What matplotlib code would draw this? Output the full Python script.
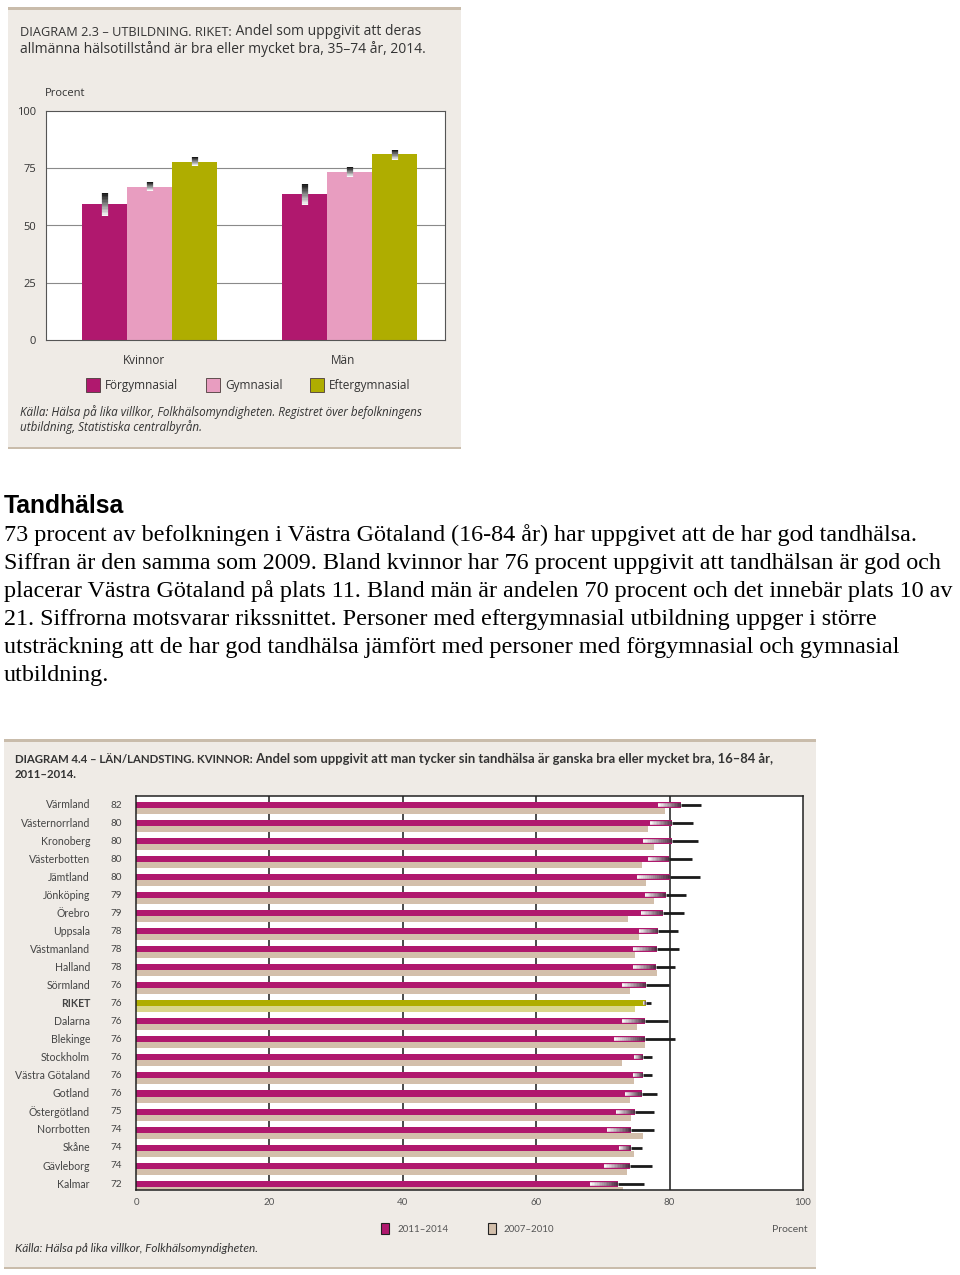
import numpy as np
from matplotlib import pyplot as plt
from matplotlib.patches import Rectangle
from matplotlib.collections import LineCollection
from matplotlib.colors import to_rgb

W, H = 960, 1275

# ---------------- data: diagram 2.3 ----------------
groups = ['Kvinnor', 'Män']
levels = ['Förgymnasial', 'Gymnasial', 'Eftergymnasial']
forgym = [59.4, 63.8]
gym = [66.8, 73.4]
eftergym = [77.7, 81.2]
forgym_lo = [54.1, 59.0]
forgym_hi = [64.2, 68.1]
gym_lo = [65.1, 71.2]
gym_hi = [69.0, 75.5]
eftergym_lo = [76.0, 78.6]
eftergym_hi = [79.9, 83.0]
yticks_top = [0, 25, 50, 75, 100]

# ---------------- data: diagram 4.4 ----------------
regions = ['Värmland', 'Västernorrland', 'Kronoberg', 'Västerbotten', 'Jämtland',
           'Jönköping', 'Örebro', 'Uppsala', 'Västmanland', 'Halland', 'Sörmland',
           'RIKET', 'Dalarna', 'Blekinge', 'Stockholm', 'Västra Götaland', 'Gotland',
           'Östergötland', 'Norrbotten', 'Skåne', 'Gävleborg', 'Kalmar']
labels_2014 = [82, 80, 80, 80, 80, 79, 79, 78, 78, 78, 76, 76, 76, 76, 76, 76, 76,
               75, 74, 74, 74, 72]
v2014 = [81.7, 80.4, 80.4, 79.9, 80.0, 79.4, 79.0, 78.3, 78.1, 77.9, 76.5, 76.5,
         76.3, 76.3, 76.0, 76.0, 75.8, 74.8, 74.2, 74.2, 74.0, 72.2]
v2010 = [79.3, 76.8, 77.7, 75.9, 76.5, 77.7, 73.8, 75.4, 74.8, 78.1, 74.1, 74.8,
         75.1, 76.3, 72.9, 74.7, 74.1, 74.2, 76.0, 74.7, 73.6, 73.0]
ci_lo = [78.3, 77.1, 76.0, 76.8, 75.1, 76.3, 75.7, 75.4, 74.5, 74.5, 72.9, 76.0,
         72.9, 71.7, 74.7, 74.5, 73.3, 72.0, 70.6, 72.4, 70.2, 68.1]
ci_hi = [84.7, 83.5, 84.3, 83.4, 84.6, 82.5, 82.2, 81.3, 81.4, 80.8, 79.9, 77.2,
         79.8, 80.8, 77.4, 77.4, 78.1, 77.7, 77.7, 75.9, 77.4, 76.2]
xticks_bottom = [0, 20, 40, 60, 80, 100]

MAGENTA = '#b0186e'
PINK = '#e89dc0'
OLIVE = '#afad00'
BEIGE = '#d3bfab'
RIKET_LIGHT = '#d9d68c'
PANEL = '#efebe6'
TXT = '#333333'


def fx(px):
    return px / W


def fy(py):
    return 1 - py / H


def rect(x0, y_bottom, w, h, **kw):
    """Rectangle in figure pixel coords (top-left origin)."""
    fig.patches.append(Rectangle((fx(x0), fy(y_bottom)), fx(w), h / H,
                                 transform=fig.transFigure, **kw))


def gradient(ax, x0, x1, y0, y1, c0, c1, lw, n=16):
    """Line from (x0,y0) to (x1,y1) fading from colour c0 to c1."""
    t = np.linspace(0, 1, n + 1)
    xs = x0 + (x1 - x0) * t
    ys = y0 + (y1 - y0) * t
    segs = [[(xs[i], ys[i]), (xs[i + 1], ys[i + 1])] for i in range(n)]
    a, b = np.array(to_rgb(c0)), np.array(to_rgb(c1))
    cols = [a + (b - a) * (i + 0.5) / n for i in range(n)]
    lc = LineCollection(segs, colors=cols, linewidths=lw, zorder=4, capstyle='butt')
    ax.add_collection(lc)


fig = plt.figure(figsize=(W / 100, H / 100), dpi=100)
fig.patch.set_facecolor('white')

# panel backgrounds (below the axes)
rect(8, 448, 453, 440, facecolor=PANEL, edgecolor='none', zorder=-2)
rect(8, 9.5, 453, 3, facecolor='#c9bcab', edgecolor='none', zorder=-1)
rect(8, 449, 453, 2.5, facecolor='#c9bcab', edgecolor='none', zorder=-1)
rect(4, 1268, 812, 528, facecolor=PANEL, edgecolor='none', zorder=-2)
rect(4, 741.5, 812, 2.5, facecolor='#c9bcab', edgecolor='none', zorder=-1)
rect(4, 1269, 812, 2.5, facecolor='#c9bcab', edgecolor='none', zorder=-1)

####################################################################################
#####                            DIAGRAM 2.3                                   #####
####################################################################################
ax1 = fig.add_axes([fx(46), fy(340), fx(399), 229 / H])
ax1.set_facecolor('white')

t1 = fig.text(fx(20), fy(36), 'DIAGRAM 2.3 – UTBILDNING. RIKET:', fontsize=9.2,
              family='Open Sans', color=TXT, va='baseline')
ax1.annotate(' Andel som uppgivit att deras', xy=(1, 0), xycoords=t1,
             fontsize=10, family='Open Sans', color=TXT, va='bottom',
             annotation_clip=False)
fig.text(fx(20), fy(53), 'allmänna hälsotillstånd är bra eller mycket bra, 35–74 år, 2014.',
         fontsize=10, family='Open Sans', color=TXT, va='baseline')

x = np.arange(len(groups))
bw = 0.225
series = [(forgym, forgym_lo, forgym_hi, MAGENTA),
          (gym, gym_lo, gym_hi, PINK),
          (eftergym, eftergym_lo, eftergym_hi, OLIVE)]
for k, (vals, lo, hi, col) in enumerate(series):
    xpos = x + (k - 1) * bw
    ax1.bar(xpos, vals, width=bw, color=col, zorder=2)
    for xi, l, h in zip(xpos, lo, hi):
        gradient(ax1, xi, xi, l, h, '#ffffff', '#111111', 4.5)
ax1.set_xlim(-0.5175, 1.4775)
ax1.set_ylim(0, 100)
ax1.set_yticks(yticks_top)
ax1.set_yticklabels([str(v) for v in yticks_top], fontsize=8, family='Open Sans', color=TXT)
ax1.tick_params(axis='y', length=0, pad=7)
ax1.set_xticks([])
for v in yticks_top[1:-1]:
    ax1.axhline(v, color='#8a8a8a', lw=0.8, zorder=1)
for s in ax1.spines.values():
    s.set_color('#555555')
    s.set_linewidth(0.8)
for xi, g in zip(x, groups):
    ax1.text(xi - 0.03, -8.8, g, ha='center', va='center', fontsize=8.5,
             family='Open Sans', color=TXT)
fig.text(fx(45), fy(94), 'Procent', fontsize=8, family='Open Sans', color=TXT, va='center')

leg_x = [86, 206, 310]
for lx, name, col in zip(leg_x, levels, [MAGENTA, PINK, OLIVE]):
    rect(lx, 392, 14, 14, facecolor=col, edgecolor='#4a3a3a', lw=0.6)
    fig.text(fx(lx + 19), fy(385), name, fontsize=8.5, family='Open Sans', color=TXT,
             va='center')
fig.text(fx(20), fy(412), 'Källa: Hälsa på lika villkor, Folkhälsomyndigheten. Registret över befolkningens',
         fontsize=8.4, family='Open Sans', style='italic', color=TXT, va='center')
fig.text(fx(20), fy(427), 'utbildning, Statistiska centralbyrån.',
         fontsize=8.4, family='Open Sans', style='italic', color=TXT, va='center')

####################################################################################
#####                               TEXT                                       #####
####################################################################################
fig.text(fx(4), fy(513), 'Tandhälsa', fontsize=17.8, family='Liberation Sans',
         weight='bold', color='black', va='baseline')
para = ['73 procent av befolkningen i Västra Götaland (16-84 år) har uppgivet att de har god tandhälsa.',
        'Siffran är den samma som 2009. Bland kvinnor har 76 procent uppgivit att tandhälsan är god och',
        'placerar Västra Götaland på plats 11. Bland män är andelen 70 procent och det innebär plats 10 av',
        '21. Siffrorna motsvarar rikssnittet. Personer med eftergymnasial utbildning uppger i större',
        'utsträckning att de har god tandhälsa jämfört med personer med förgymnasial och gymnasial',
        'utbildning.']
for i, line in enumerate(para):
    fig.text(fx(4), fy(541 + 28 * i), line, fontsize=17.4, family='Liberation Serif',
             color='black', va='baseline')

####################################################################################
#####                            DIAGRAM 4.4                                   #####
####################################################################################
ax2 = fig.add_axes([fx(136), fy(1190), fx(667), 394 / H])
ax2.set_facecolor('white')

t2 = fig.text(fx(15), fy(763), 'DIAGRAM 4.4 – LÄN/LANDSTING. KVINNOR:', fontsize=8.2,
              family='Lato', weight='bold', color=TXT, va='baseline')
ax2.annotate(' Andel som uppgivit att man tycker sin tandhälsa är ganska bra eller mycket bra, 16–84 år,',
             xy=(1, 0), xycoords=t2, fontsize=9.4, family='Lato', weight='bold', color=TXT,
             va='bottom', annotation_clip=False)
fig.text(fx(15), fy(778), '2011–2014.', fontsize=8.2, family='Lato', weight='bold',
         color=TXT, va='baseline')

bh = 1 / 3
for i, r in enumerate(regions):
    riket = r == 'RIKET'
    c_new = OLIVE if riket else MAGENTA
    c_old = RIKET_LIGHT if riket else BEIGE
    ax2.barh(i - bh / 2, v2014[i], height=bh, color=c_new, zorder=2)
    ax2.barh(i + bh / 2, v2010[i], height=bh, color=c_old, zorder=2)
    yb = i - bh / 2
    gradient(ax2, ci_lo[i], v2014[i], yb, yb, '#ffffff', '#4a2a3e', 2.6)
    ax2.plot([v2014[i], ci_hi[i]], [yb, yb], color='#1a1a1a', lw=2.0, zorder=4,
             solid_capstyle='butt')
for v in xticks_bottom[1:-1]:
    ax2.axvline(v, color='#1a1a1a', lw=1.1, zorder=1)
ax2.set_xlim(0, 100)
ax2.set_ylim(21.18, -0.65)
ax2.set_yticks([])
ax2.set_xticks(xticks_bottom)
ax2.set_xticklabels([str(v) for v in xticks_bottom], fontsize=7, family='Lato', color='#555555')
ax2.tick_params(axis='x', length=0, pad=6)
for s in ax2.spines.values():
    s.set_color('#222222')
    s.set_linewidth(1.1)

for i, r in enumerate(regions):
    yp = fy(805 + 18.05 * i)
    fig.text(fx(90), yp, r, ha='right', va='center', fontsize=7.6, family='Lato',
             color='#444444', weight='bold' if r == 'RIKET' else 'normal')
    fig.text(fx(116), yp, str(labels_2014[i]), ha='center', va='center', fontsize=7.2,
             family='Lato', color='#444444')

for lx, name, col in zip([381, 488], ['2011–2014', '2007–2010'], [MAGENTA, BEIGE]):
    rect(lx, 1234, 8, 11, facecolor=col, edgecolor='#222222', lw=0.8)
    fig.text(fx(lx + 16), fy(1229), name, fontsize=7, family='Lato', color='#555555',
             va='center')
fig.text(fx(808), fy(1229), 'Procent', fontsize=7.5, family='Lato', color='#555555',
         va='center', ha='right')
fig.text(fx(15), fy(1249), 'Källa: Hälsa på lika villkor, Folkhälsomyndigheten.', fontsize=8.5,
         family='Lato', style='italic', color='#333333', va='center')

plt.savefig('out.png', dpi=100)
